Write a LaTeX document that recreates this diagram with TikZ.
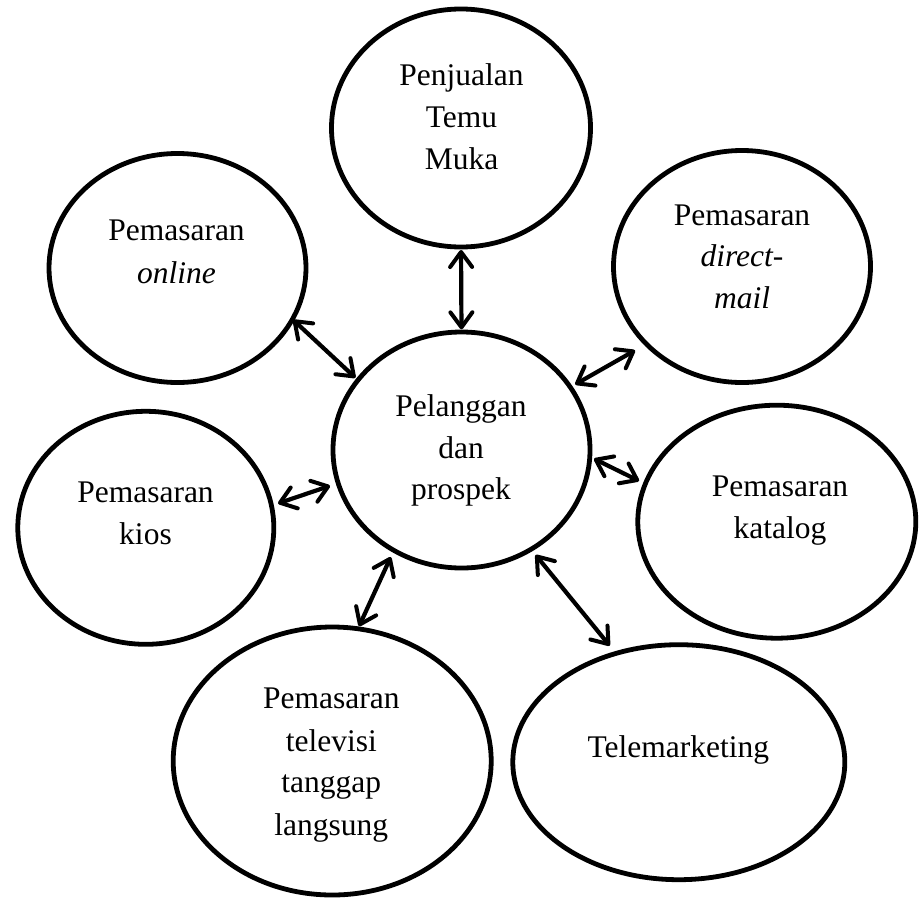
\documentclass[tikz,border=0pt]{standalone}
\usepackage{fontspec}
\setmainfont{Liberation Serif}
\usetikzlibrary{shapes.geometric,arrows.meta}
\begin{document}
\begin{tikzpicture}[x=1pt,y=-1pt,
  oval/.style={draw=black, ellipse, line width=4.8pt, inner sep=0pt, outer sep=0pt},
  lbl/.style={anchor=base, inner sep=0pt, font=\fontsize{31.5}{42}\selectfont},
  tipb/.tip={Straight Barb[length=15pt,width=22pt,round,line width=4pt]},
  arr/.style={line width=4.2pt, black, tipb-tipb}]
\useasboundingbox (0,0) rectangle (920,897);
% ellipses
\node[oval, minimum width=259pt, minimum height=238pt] (tp) at (461,128) {};
\node[oval, minimum width=257pt, minimum height=236pt] (c)  at (461.5,450) {};
\node[oval, minimum width=257pt, minimum height=229pt] (on) at (177.5,268) {};
\node[oval, minimum width=257pt, minimum height=232pt] (dm) at (742,266.5) {};
\node[oval, minimum width=256pt, minimum height=233pt] (ki) at (145.8,527.8) {};
\node[oval, minimum width=278pt, minimum height=233pt] (ka) at (776.8,521.7) {};
\node[oval, minimum width=318pt, minimum height=268pt] (tv) at (332.2,761) {};
\node[oval, minimum width=332pt, minimum height=235pt] (tm) at (678.8,762.2) {};
% texts
\node[lbl] (tpa) at (461.5,85.7) {Penjualan};
\node[lbl] (tpb) at (461.5,127.5) {Temu};
\node[lbl] (tpc) at (461.5,169.3) {Muka};
\node[lbl] (ona) at (176.5,240.3) {Pemasaran};
\node[lbl] (onb) at (176.5,283) {\itshape online};
\node[lbl] (dma) at (742,225) {Pemasaran};
\node[lbl] (dmb) at (742,266.5) {\itshape direct-};
\node[lbl] (dmc) at (742,308.3) {\itshape mail};
\node[lbl] (ca) at (461,416) {Pelanggan};
\node[lbl] (cb) at (461,458) {dan};
\node[lbl] (cc) at (461,499.5) {prospek};
\node[lbl] (kia) at (145.5,502.3) {Pemasaran};
\node[lbl] (kib) at (145.5,544.5) {kios};
\node[lbl] (kaa) at (780,496) {Pemasaran};
\node[lbl] (kab) at (780,538.5) {katalog};
\node[lbl] (tva) at (331.3,708.3) {Pemasaran};
\node[lbl] (tvb) at (331.3,751) {televisi};
\node[lbl] (tvc) at (331.3,792.7) {tanggap};
\node[lbl] (tvd) at (331.3,835.5) {langsung};
\node[lbl] (tma) at (678.3,757.7) {Telemarketing};
% connectors
\draw[arr, shorten <=3pt, shorten >=2.7pt] (tp.-90) -- (c.90);
\draw[arr, shorten <=1pt, shorten >=3.5pt] (on.-24.2) -- (c.146);
\draw[arr, shorten <=13pt, shorten >=5.7pt] (dm.219.3) -- (c.30.2);
\draw[arr, shorten <=7pt, shorten >=4.7pt] (ka.164.3) -- (c.-3.6);
\draw[arr, shorten <=7pt, shorten >=8.6pt] (ki.10.2) -- (c.195.3);
\draw[arr, shorten <=2.8pt, shorten >=7.4pt] (tv.79.1) -- (c.236.2);
\draw[arr, shorten <=10pt, shorten >=7.3pt] (tm.120) -- (c.-55.6);
\end{tikzpicture}
\end{document}
